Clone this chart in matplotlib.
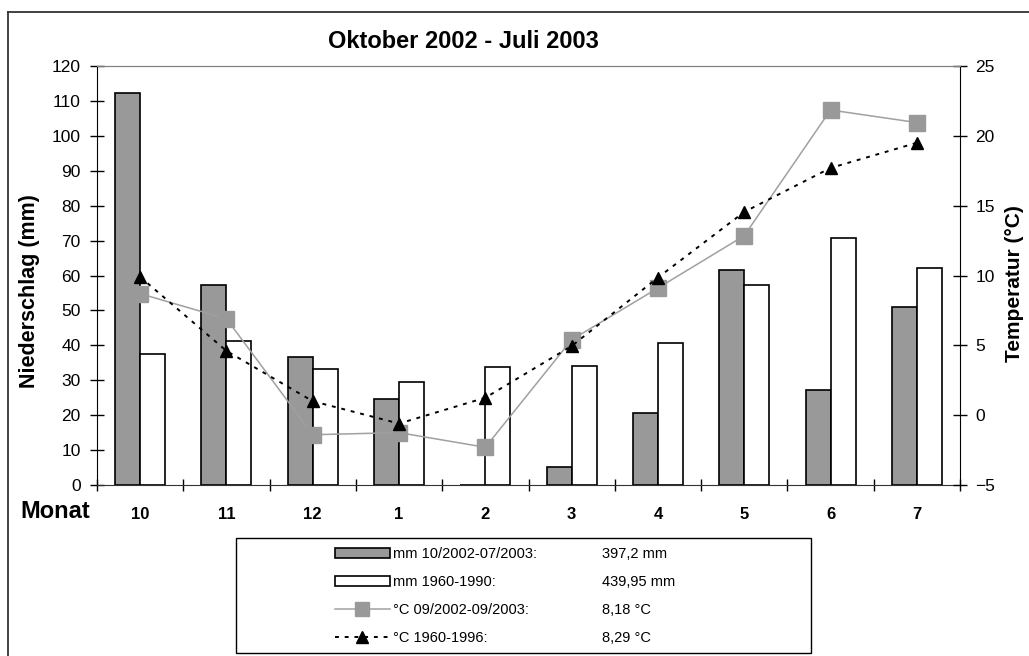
import matplotlib.pyplot as plt
from matplotlib.patches import Rectangle, Patch
from matplotlib.lines import Line2D
import numpy as np

plt.rcParams['font.family'] = ['Liberation Sans', 'DejaVu Sans']

monate = ['10', '11', '12', '1', '2', '3', '4', '5', '6', '7']
mm_2002_03 = [112.4, 57.4, 36.8, 24.5, 0.0, 5.2, 20.6, 61.7, 27.1, 51.1]
mm_1960_90 = [37.6, 41.3, 33.3, 29.4, 33.7, 34.1, 40.7, 57.4, 70.6, 62.1]
temp_2002_03 = [8.7, 6.9, -1.4, -1.25, -2.3, 5.4, 9.1, 12.85, 21.85, 20.95]
temp_1960_96 = [9.9, 4.6, 1.0, -0.6, 1.25, 4.95, 9.85, 14.55, 17.7, 19.5]

leg_labels = ['mm 10/2002-07/2003:', 'mm 1960-1990:',
              '°C 09/2002-09/2003:', '°C 1960-1996:']
leg_werte = ['397,2 mm', '439,95 mm', '8,18 °C', '8,29 °C']

W, H = 1029, 656
fig = plt.figure(figsize=(W / 100, H / 100), dpi=100)
ax = fig.add_axes([97 / W, 1 - 485 / H, (960 - 97) / W, (485 - 66) / H])
ax2 = ax.twinx()

x = np.arange(len(monate))
bw = 0.29
ax.bar(x - bw / 2, mm_2002_03, bw, color='#999999', edgecolor='black', linewidth=1.2, zorder=2)
ax.bar(x + bw / 2, mm_1960_90, bw, color='white', edgecolor='black', linewidth=1.2, zorder=2)

ax2.plot(x, temp_2002_03, color='#a0a0a0', linewidth=1.1, marker='s', markersize=11.5,
         markerfacecolor='#999999', markeredgecolor='#999999', zorder=3)
ax2.plot(x, temp_1960_96, color='black', linewidth=1.4, linestyle=(0, (2, 3)),
         marker='^', markersize=8, markerfacecolor='black', markeredgecolor='black', zorder=4)

ax.set_xlim(-0.5, len(monate) - 0.5)
ax.set_ylim(0, 120)
ax.set_yticks(np.arange(0, 121, 10))
ax2.set_ylim(-5, 25)
ax2.set_yticks(np.arange(-5, 26, 5))

# tick marks between months, labels in the middle
ax.set_xticks(np.arange(-0.5, len(monate), 1.0))
ax.set_xticklabels([])
ax.set_xticks(x, minor=True)
ax.set_xticklabels(monate, minor=True, fontsize=12, fontweight='bold')
ax.tick_params(axis='x', which='major', direction='inout', length=9, width=1)
ax.tick_params(axis='x', which='minor', length=0, pad=15.5)
ax.tick_params(axis='y', direction='inout', length=9.4, width=1, pad=7, labelsize=12.5)
ax2.tick_params(axis='y', direction='inout', length=9.4, width=1, pad=6.3, labelsize=12.5)

for a in (ax, ax2):
    a.spines['top'].set_color('#808080')
    a.spines['bottom'].set_color('#333333')
    a.spines['left'].set_color('black')
    a.spines['right'].set_color('black')
ax.spines['right'].set_visible(False)
ax2.spines['left'].set_visible(False)
ax2.spines['bottom'].set_visible(False)

fig.text(30 / W, 1 - 291 / H, 'Niederschlag (mm)', rotation=90, fontsize=15.5,
         fontweight='bold', ha='center', va='center')
fig.text(1014 / W, 1 - 284 / H, 'Temperatur (°C)', rotation=90, fontsize=15,
         fontweight='bold', ha='center', va='center')
fig.text(20 / W, 1 - 512 / H, 'Monat', fontsize=17, fontweight='bold', ha='left', va='center')
fig.text(463 / W, 1 - 41 / H, 'Oktober 2002 - Juli 2003', fontsize=17,
         fontweight='bold', ha='center', va='center')

# outer chart frame (only top and left edges visible)
fig.add_artist(Line2D([8 / W, 1], [1 - 12 / H, 1 - 12 / H], color='#333333', linewidth=1.3))
fig.add_artist(Line2D([8 / W, 8 / W], [0, 1 - 12 / H], color='#333333', linewidth=1.3))

# legend box
fig.add_artist(Rectangle((236 / W, 1 - 653 / H), (811 - 236) / W, (653 - 538) / H,
                         transform=fig.transFigure, fill=False, edgecolor='black', linewidth=1))
handles = [
    Patch(facecolor='#999999', edgecolor='black', linewidth=1.2),
    Patch(facecolor='white', edgecolor='black', linewidth=1.2),
    Line2D([], [], color='#a0a0a0', linewidth=1.1, marker='s', markersize=10.5,
           markerfacecolor='#999999', markeredgecolor='#999999'),
    Line2D([], [], color='black', linewidth=1.4, linestyle=(0, (2, 3)), marker='^',
           markersize=8, markerfacecolor='black'),
]
leg = fig.legend(handles, leg_labels, loc='upper left', bbox_to_anchor=(335 / W, 1 - 547 / H),
                 frameon=False, fontsize=10.5, handlelength=3.75, handleheight=0.75,
                 handletextpad=0.22, labelspacing=0.97, borderpad=0, borderaxespad=0)
zeilen_y = [554, 581.5, 610, 637.5]
for wert, yy in zip(leg_werte, zeilen_y):
    fig.text(602 / W, 1 - yy / H, wert, fontsize=10.5, ha='left', va='center')

fig.savefig('out.png', dpi=100)
